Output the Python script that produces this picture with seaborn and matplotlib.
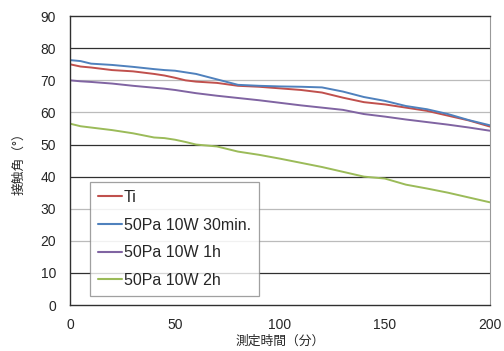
import numpy as np
import pandas as pd
import matplotlib
matplotlib.use("Agg")
import matplotlib.pyplot as plt
import seaborn as sns

# ── Data ──────────────────────────────────────────────────────────────────────
minutes = [0, 5, 10, 20, 30, 40, 45, 50, 55, 60, 70, 80, 90, 100, 110, 120,
           130, 140, 150, 160, 170, 180, 190, 200]
ti      = [75.0, 74.3, 74.0, 73.2, 72.8, 72.0, 71.5, 70.8, 70.0, 69.6, 69.2, 68.3,
           68.0, 67.5, 67.0, 66.2, 64.6, 63.2, 62.5, 61.5, 60.5, 59.0, 57.5, 55.6]
p30min  = [76.3, 76.0, 75.2, 74.8, 74.2, 73.5, 73.2, 73.0, 72.5, 72.0, 70.3, 68.6,
           68.3, 68.1, 68.0, 67.8, 66.5, 64.8, 63.6, 62.0, 61.0, 59.5, 57.6, 56.0]
p1h     = [70.0, 69.7, 69.5, 69.0, 68.3, 67.7, 67.4, 67.0, 66.5, 66.0, 65.2, 64.5,
           63.8, 63.0, 62.2, 61.5, 60.8, 59.5, 58.7, 57.8, 57.0, 56.2, 55.3, 54.3]
p2h     = [56.5, 55.7, 55.3, 54.5, 53.5, 52.2, 52.0, 51.5, 50.8, 50.0, 49.4, 47.8,
           46.8, 45.6, 44.3, 43.0, 41.5, 40.0, 39.4, 37.5, 36.3, 35.0, 33.5, 32.0]

labels = ["Ti", "50Pa 10W 30min.", "50Pa 10W 1h", "50Pa 10W 2h"]
colors = ["#C0504D", "#4F81BD", "#8064A2", "#9BBB59"]

df = pd.concat([
    pd.DataFrame({"time": minutes, "angle": vals, "sample": lab})
    for lab, vals in zip(labels, [ti, p30min, p1h, p2h])
])

# ── Plot ──────────────────────────────────────────────────────────────────────
sns.set_style("white")
plt.rcParams["font.family"] = ["Liberation Sans", "Noto Sans CJK JP", "DejaVu Sans"]

fig = plt.figure(figsize=(5.04, 3.51), dpi=100)
ax = fig.add_axes([0.139, 0.131, 0.833, 0.823])

# horizontal grid (alternating dark/grey as in the source image)
for yv in range(10, 90, 10):
    c = "#303030" if yv in (10, 40, 50, 80) else "#BBBBBB"
    ax.axhline(yv, color=c, lw=0.9, zorder=0)

sns.lineplot(data=df, x="time", y="angle", hue="sample", hue_order=labels,
             palette=colors, lw=1.4, ax=ax, legend=True)

ax.set_xlim(0, 200)
ax.set_ylim(0, 90)
ax.set_xticks([0, 50, 100, 150, 200])
ax.set_yticks(range(0, 91, 10))
ax.tick_params(axis="x", direction="in", length=4, labelsize=10, pad=9,
               color="#555555")
ax.tick_params(axis="y", length=0, labelsize=10, pad=10)
for side in ["left", "bottom", "top"]:
    ax.spines[side].set_color("#303030")
    ax.spines[side].set_linewidth(1.0)
ax.spines["right"].set_color("#999999")

ax.set_xlabel("測定時間（分）", fontsize=9.2, family=["Noto Sans CJK JP"], labelpad=2)
ax.set_ylabel("接触角（°）", fontsize=9.2, family=["Noto Sans CJK JP"], labelpad=11)

leg = ax.legend(loc="lower left", bbox_to_anchor=(0.048, 0.031),
                frameon=True, fancybox=False, edgecolor="#888888",
                fontsize=11.5, handlelength=1.5, handletextpad=0.1,
                labelspacing=0.8, borderpad=0.5, borderaxespad=0)
leg.get_frame().set_linewidth(0.9)
for line in leg.get_lines():
    line.set_linewidth(1.5)

fig.savefig("out.png", dpi=100)
